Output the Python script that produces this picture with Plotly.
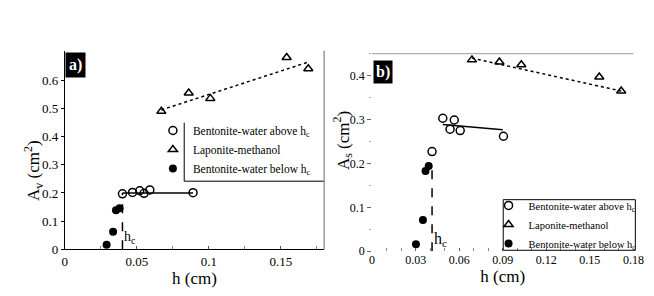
import plotly.graph_objects as go

# ---------------- Panel a) A_v ----------------
a_above_h = [0.040, 0.047, 0.052, 0.055, 0.059, 0.089]
a_above_y = [0.197, 0.202, 0.208, 0.199, 0.211, 0.201]
a_lap_h = [0.067, 0.086, 0.101, 0.154, 0.169]
a_lap_y = [0.490, 0.555, 0.536, 0.681, 0.641]
a_below_h = [0.029, 0.0335, 0.0355, 0.038]
a_below_y = [0.016, 0.062, 0.139, 0.146]
a_fit_h = [0.040, 0.089]
a_fit_y = [0.200, 0.200]
a_lapfit_h = [0.067, 0.169]
a_lapfit_y = [0.495, 0.665]
a_hc = 0.040
a_hc_y = [0.0, 0.200]

# ---------------- Panel b) A_s ----------------
b_above_h = [0.0413, 0.0487, 0.0537, 0.0566, 0.0607, 0.0905]
b_above_y = [0.227, 0.303, 0.278, 0.299, 0.275, 0.262]
b_lap_h = [0.0688, 0.0877, 0.1028, 0.1565, 0.1716]
b_lap_y = [0.436, 0.431, 0.425, 0.397, 0.365]
b_below_h = [0.0302, 0.035, 0.0368, 0.039]
b_below_y = [0.016, 0.071, 0.183, 0.194]
b_fit_h = [0.0487, 0.090]
b_fit_y = [0.289, 0.277]
b_lapfit_h = [0.0688, 0.1716]
b_lapfit_y = [0.440, 0.365]
b_hc = 0.0413
b_hc_y = [0.0, 0.200]

a_xticks = [0, 0.05, 0.1, 0.15]
a_xticktext = ["0", "0.05", "0.1", "0.15"]
a_yticks = [0, 0.1, 0.2, 0.3, 0.4, 0.5, 0.6]
a_yticktext = ["0", "0.1", "0.2", "0.3", "0.4", "0.5", "0.6"]
b_xticks = [0, 0.03, 0.06, 0.09, 0.12, 0.15, 0.18]
b_xticktext = ["0", "0.03", "0.06", "0.09", "0.12", "0.15", "0.18"]
b_yticks = [0, 0.1, 0.2, 0.3, 0.4]
b_yticktext = ["0", "0.1", "0.2", "0.3", "0.4"]

names = ["Bentonite-water above h<sub>c</sub>", "Laponite-methanol",
         "Bentonite-water below h<sub>c</sub>"]
a_ytitle = "A<sub>v</sub> (cm<sup>2</sup>)"
b_ytitle = "A<sub>s</sub> (cm<sup>2</sup>)"
xtitle = "h (cm)"

FONT = "Liberation Serif"
W, H = 654, 296

fig = go.Figure()

def add_panel(xa, ya, leg, above_h, above_y, lap_h, lap_y, below_h, below_y,
              fit_h, fit_y, lapfit_h, lapfit_y, hc, hc_y):
    fig.add_trace(go.Scatter(x=lapfit_h, y=lapfit_y, mode="lines", xaxis=xa, yaxis=ya,
                             line=dict(color="black", width=1.5, dash="dot"),
                             showlegend=False, hoverinfo="skip"))
    fig.add_trace(go.Scatter(x=fit_h, y=fit_y, mode="lines", xaxis=xa, yaxis=ya,
                             line=dict(color="black", width=1.5),
                             showlegend=False, hoverinfo="skip"))
    fig.add_trace(go.Scatter(x=[hc, hc], y=hc_y, mode="lines", xaxis=xa, yaxis=ya,
                             line=dict(color="black", width=1.5, dash="dash"),
                             showlegend=False, hoverinfo="skip"))
    fig.add_trace(go.Scatter(x=above_h, y=above_y, mode="markers", name=names[0],
                             xaxis=xa, yaxis=ya, legend=leg,
                             marker=dict(symbol="circle-open", size=8, color="black",
                                         line=dict(width=1.5, color="black"))))
    fig.add_trace(go.Scatter(x=lap_h, y=lap_y, mode="markers", name=names[1],
                             xaxis=xa, yaxis=ya, legend=leg,
                             marker=dict(symbol="triangle-up-open", size=8, color="black",
                                         line=dict(width=1.5, color="black"))))
    fig.add_trace(go.Scatter(x=below_h, y=below_y, mode="markers", name=names[2],
                             xaxis=xa, yaxis=ya, legend=leg,
                             marker=dict(symbol="circle", size=8, color="black")))

add_panel("x", "y", "legend", a_above_h, a_above_y, a_lap_h, a_lap_y, a_below_h, a_below_y,
          a_fit_h, a_fit_y, a_lapfit_h, a_lapfit_y, a_hc, a_hc_y)
add_panel("x2", "y2", "legend2", b_above_h, b_above_y, b_lap_h, b_lap_y, b_below_h, b_below_y,
          b_fit_h, b_fit_y, b_lapfit_h, b_lapfit_y, b_hc, b_hc_y)

def px_x(p):
    return p / W

def px_y(p):
    return 1 - p / H

tickfont_a = dict(family=FONT, size=13, color="black")
tickfont_b = dict(family=FONT, size=12, color="black")
titlefont = dict(family=FONT, size=17, color="black")

fig.update_layout(
    width=W, height=H, autosize=False,
    margin=dict(l=0, r=0, t=0, b=0),
    paper_bgcolor="white", plot_bgcolor="white",
    font=dict(family=FONT, color="black"),
    xaxis=dict(domain=[px_x(55), px_x(320)], range=[0, 0.18], tickvals=a_xticks,
               ticktext=a_xticktext, showline=True, linecolor="black", linewidth=1,
               ticks="inside", ticklen=3, tickcolor="#555", showgrid=False, zeroline=False,
               tickfont=tickfont_a,
               minor=dict(tickvals=[0.025, 0.075, 0.125, 0.175], ticks="inside",
                          ticklen=3, tickcolor="#888"),
               title=dict(text=xtitle, font=titlefont, standoff=0)),
    yaxis=dict(domain=[px_y(248), px_y(44)], range=[0, 0.705], tickvals=a_yticks,
               ticktext=a_yticktext, showline=True, linecolor="black", linewidth=1,
               ticks="outside", ticklen=3, tickcolor="black", showgrid=False, zeroline=False,
               tickfont=tickfont_a),
    xaxis2=dict(domain=[px_x(369), px_x(636)], range=[0, 0.18], tickvals=b_xticks,
                ticktext=b_xticktext, showline=False, anchor="y2",
                ticks="inside", ticklen=3, tickcolor="#666", showgrid=False, zeroline=False,
                tickfont=tickfont_b,
                minor=dict(dtick=0.01, tick0=0, ticks="inside", ticklen=3, tickcolor="#888"),
                title=dict(text=xtitle, font=titlefont, standoff=0)),
    yaxis2=dict(domain=[px_y(250), px_y(47)], range=[0, 0.45], tickvals=b_yticks,
                ticktext=b_yticktext, showline=False, anchor="x2",
                ticks="outside", ticklen=4, tickcolor="#666", showgrid=False, zeroline=False,
                tickfont=tickfont_b,
                minor=dict(dtick=0.05, ticks="outside", ticklen=2, tickcolor="#aaa")),
    legend=dict(x=px_x(145), y=px_y(111), xanchor="left", yanchor="top",
                bgcolor="rgba(0,0,0,0)", borderwidth=0,
                font=dict(family=FONT, size=11.5, color="black"),
                tracegroupgap=0, itemwidth=30),
    legend2=dict(x=px_x(488), y=px_y(188), xanchor="left", yanchor="top",
                 bgcolor="rgba(0,0,0,0)", borderwidth=0,
                 font=dict(family=FONT, size=10.5, color="black"),
                 tracegroupgap=0, itemwidth=30),
    showlegend=True,
)

shapes = [
    dict(type="line", xref="paper", yref="paper", x0=px_x(177), x1=px_x(177),
         y0=px_y(118), y1=px_y(178), line=dict(color="black", width=1)),
    dict(type="line", xref="paper", yref="paper", x0=px_x(177), x1=px_x(320),
         y0=px_y(178), y1=px_y(178), line=dict(color="black", width=1)),
    dict(type="line", xref="paper", yref="paper", x0=px_x(320), x1=px_x(320),
         y0=px_y(248), y1=px_y(44), line=dict(color="#999", width=1.5)),
    dict(type="line", xref="paper", yref="paper", x0=px_x(369), x1=px_x(636),
         y0=px_y(47), y1=px_y(47), line=dict(color="#999", width=1)),
    dict(type="rect", xref="paper", yref="paper", x0=px_x(503), x1=px_x(638),
         y0=px_y(249), y1=px_y(197), line=dict(color="black", width=1)),
]
fig.update_layout(shapes=shapes)

annotations = [
    dict(text=a_ytitle, xref="paper", yref="paper", x=px_x(23), y=px_y(167),
         xanchor="center", yanchor="middle", textangle=-90, showarrow=False,
         font=titlefont),
    dict(text=b_ytitle, xref="paper", yref="paper", x=px_x(339), y=px_y(136),
         xanchor="center", yanchor="middle", textangle=-90, showarrow=False,
         font=titlefont),
    dict(text="<b>a)</b>", xref="paper", yref="paper", x=px_x(55), y=px_y(45),
         xanchor="left", yanchor="top", showarrow=False, bgcolor="black",
         font=dict(family=FONT, size=16, color="white"), borderpad=3),
    dict(text="<b>b)</b>", xref="paper", yref="paper", x=px_x(370), y=px_y(53),
         xanchor="left", yanchor="top", showarrow=False, bgcolor="black",
         font=dict(family=FONT, size=16, color="white"), borderpad=2),
    dict(text="h<sub>c</sub>", xref="x", yref="y", x=a_hc, y=0.005,
         xanchor="left", yanchor="bottom", showarrow=False,
         font=dict(family=FONT, size=14, color="black")),
    dict(text="h<sub>c</sub>", xref="x2", yref="y2", x=b_hc, y=0.0,
         xanchor="left", yanchor="bottom", showarrow=False,
         font=dict(family=FONT, size=16, color="black")),
]
fig.update_layout(annotations=annotations)

fig.write_html("out.html")
